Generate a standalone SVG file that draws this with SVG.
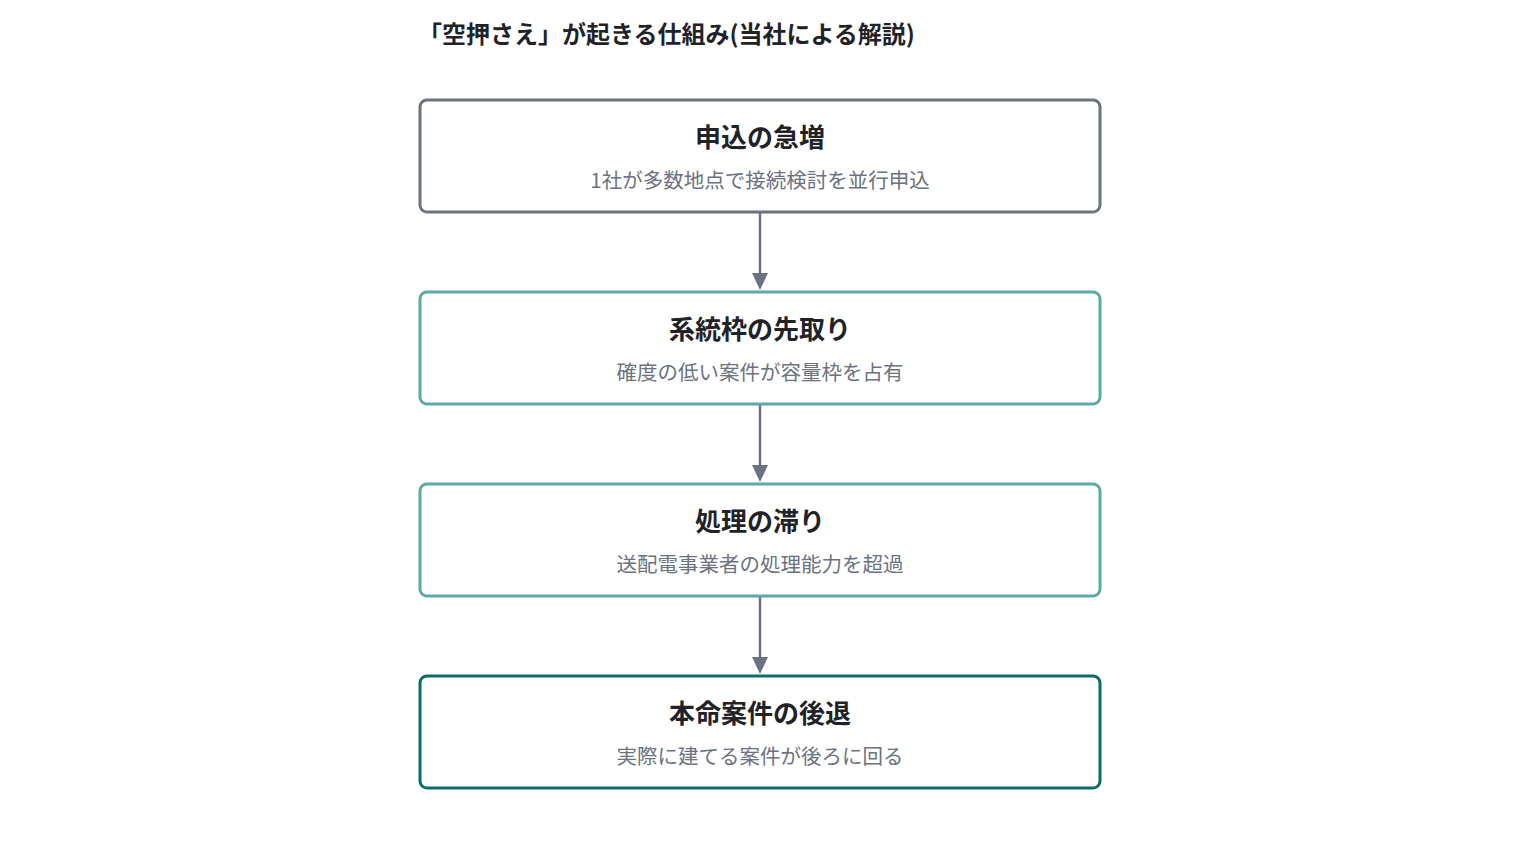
<svg xmlns="http://www.w3.org/2000/svg" width="1520" height="848" viewBox="0 0 1520 848">
<style>
text{font-family:"Noto Sans CJK JP","Noto Sans",sans-serif}
.title{font-size:24px;font-weight:700;fill:#1f2328}
.nt{font-size:26px;font-weight:700;fill:#1f2328;text-anchor:middle}
.ns{font-size:20.5px;fill:#6b7280;text-anchor:middle}
.box{fill:#ffffff;stroke-width:3}
.edge{stroke:#6b7280;stroke-width:2.5;fill:none}
</style>
<defs>
<marker id="ah" markerWidth="12" markerHeight="16" refX="6" refY="16" orient="auto-start-reverse" markerUnits="userSpaceOnUse" viewBox="0 0 12 16">
<path d="M0,0 L12,0 L6,16 Z" fill="#6b7280" transform="rotate(0)"/>
</marker>
</defs>
<rect width="1520" height="848" fill="#ffffff"/>
<text class="title" x="418" y="43">「空押さえ」が起きる仕組み(当社による解説)</text>
<g id="connectors">
<line class="edge" x1="760" y1="213" x2="760" y2="274"/>
<path d="M752,273 L768,273 L760,290 Z" fill="#6b7280"/>
<line class="edge" x1="760" y1="405" x2="760" y2="466"/>
<path d="M752,465 L768,465 L760,482 Z" fill="#6b7280"/>
<line class="edge" x1="760" y1="597" x2="760" y2="658"/>
<path d="M752,657 L768,657 L760,674 Z" fill="#6b7280"/>
</g>
<g id="node1">
<rect class="box" x="420" y="100" width="680" height="112" rx="7" stroke="#6b7280"/>
<text class="nt" x="760" y="147">申込の急増</text>
<text class="ns" x="760" y="188">1社が多数地点で接続検討を並行申込</text>
</g>
<g id="node2">
<rect class="box" x="420" y="292" width="680" height="112" rx="7" stroke="#5fa8a8"/>
<text class="nt" x="760" y="339">系統枠の先取り</text>
<text class="ns" x="760" y="380">確度の低い案件が容量枠を占有</text>
</g>
<g id="node3">
<rect class="box" x="420" y="484" width="680" height="112" rx="7" stroke="#5fa8a8"/>
<text class="nt" x="760" y="531">処理の滞り</text>
<text class="ns" x="760" y="572">送配電事業者の処理能力を超過</text>
</g>
<g id="node4">
<rect class="box" x="420" y="676" width="680" height="112" rx="7" stroke="#0f6b6b"/>
<text class="nt" x="760" y="723">本命案件の後退</text>
<text class="ns" x="760" y="764">実際に建てる案件が後ろに回る</text>
</g>
</svg>
